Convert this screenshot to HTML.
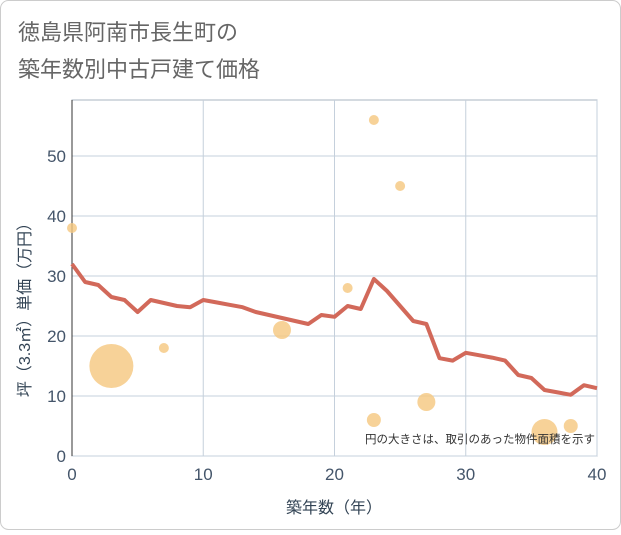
<!DOCTYPE html>
<html><head><meta charset="utf-8"><style>
body{margin:0;background:#fff}
svg text{font-family:"Liberation Sans","Noto Sans CJK JP",sans-serif}
</style></head><body>
<svg width="621" height="530" xmlns="http://www.w3.org/2000/svg">
<rect x="0.5" y="0.5" width="620" height="529" rx="8" fill="#fff" stroke="#ccc"/>
<text x="18" y="40" font-size="22" fill="#666">徳島県阿南市長生町の</text>
<text x="18" y="77" font-size="22" fill="#666">築年数別中古戸建て価格</text>
<g id="grid"></g>
<g id="marks"></g>
<text x="595" y="443" font-size="11.5" fill="#333" text-anchor="end">円の大きさは、取引のあった物件面積を示す</text>
<text x="334" y="513" font-size="16" fill="#334455" text-anchor="middle">築年数（年）</text>
<text transform="translate(30,306) rotate(-90)" font-size="16" fill="#334455" text-anchor="middle">坪（3.3㎡）単価（万円）</text>
</svg>
<script>
const xTicks=[0,10,20,30,40];
const yTicks=[0,10,20,30,40,50];
const lineYears=[0,1,2,3,4,5,6,7,8,9,10,11,12,13,14,15,16,17,18,19,20,21,22,23,24,25,26,27,28,29,30,31,32,33,34,35,36,37,38,39,40];
const lineValues=[32,29,28.5,26.5,26,24,26,25.5,25,24.8,26,25.6,25.2,24.8,24,23.5,23,22.5,22,23.5,23.2,25,24.5,29.5,27.5,25,22.5,22,16.3,15.9,17.2,16.8,16.4,15.9,13.5,13,11,10.6,10.2,11.8,11.3];
const bubbleYears=[0,3,7,16,21,23,23,25,27,36,38];
const bubbleValues=[38,15,18,21,28,56,6,45,9,4,5];
const bubbleSizes=[5,22,5,9,5,5,7,5,9,13,7];
const X0=72,X1=597,Y0=456,Y1=100;
const xs=v=>X0+(v-0)/40*(X1-X0);
const ys=v=>Y0-v*6;
const NS="http://www.w3.org/2000/svg";
const grid=document.getElementById('grid'),marks=document.getElementById('marks');
function mk(t,a,p){const e=document.createElementNS(NS,t);for(const k in a)e.setAttribute(k,a[k]);p.appendChild(e);return e;}
const bg=mk('rect',{x:X0,y:Y1,width:X1-X0,height:Y0-Y1,fill:'#fff',stroke:'#aab4c0'},grid);


xTicks.forEach(t=>{
 const l=mk('line',{x1:xs(t),x2:xs(t),y1:Y1,y2:Y0,stroke:'#c5d0dc'},grid);
 
 
 const tx=mk('text',{x:xs(t),y:Y0+24,'font-size':17,fill:'#44556a','text-anchor':'middle'},grid);
 tx.textContent=t;
 
 
});
yTicks.forEach(t=>{
 const l=mk('line',{x1:X0,x2:X1,y1:ys(t),y2:ys(t),stroke:'#c5d0dc'},grid);
 
 
 const tx=mk('text',{x:X0-6,y:ys(t)+6,'font-size':17,fill:'#44556a','text-anchor':'end'},grid);
 tx.textContent=t;
 
 
});
const ax=mk('line',{x1:X0,x2:X0,y1:Y1,y2:Y0,stroke:'#333'},grid);


bubbleYears.forEach((yr,i)=>{
 const c=mk('circle',{cx:xs(yr),cy:ys(bubbleValues[i]),r:bubbleSizes[i],fill:'#f5c77e','fill-opacity':0.8},marks);
 
 
});
const pl=mk('polyline',{points:lineYears.map((y,i)=>xs(y)+','+ys(lineValues[i])).join(' '),fill:'none',stroke:'#d2695a','stroke-width':4,'stroke-linejoin':'round'},marks);


</script>
</body></html>
